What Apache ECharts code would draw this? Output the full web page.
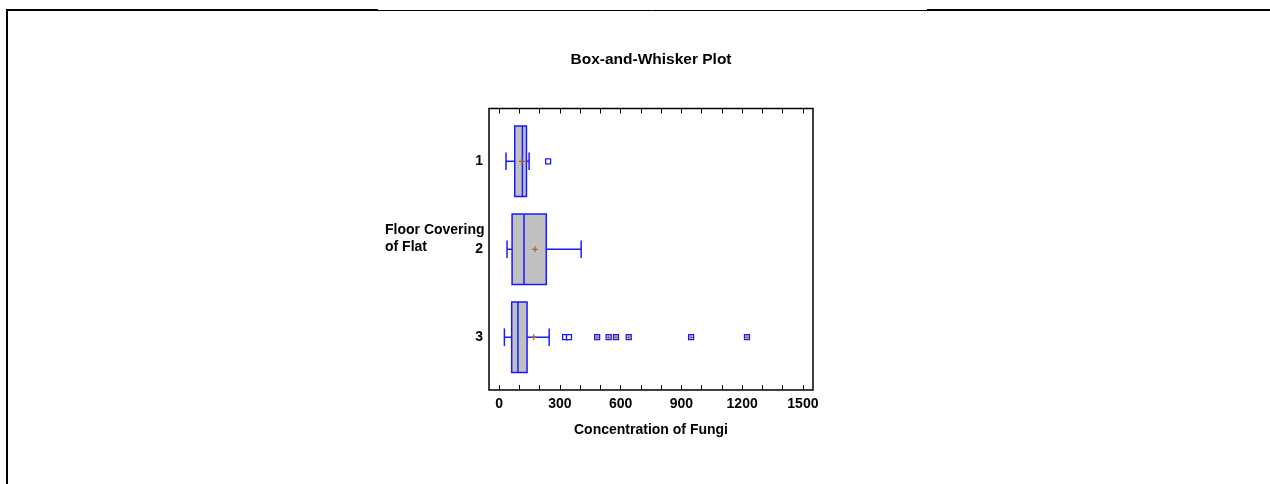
<!DOCTYPE html>
<html>
<head>
<meta charset="utf-8">
<script src="https://cdn.jsdelivr.net/npm/echarts@6/dist/echarts.min.js"></script>
<style>
html,body{margin:0;padding:0;background:#fff;}
#chart{width:1270px;height:484px;}
</style>
</head>
<body>
<div id="chart"></div>
<script>
// ---- data ----
const categories = [1, 2, 3];
const whiskerLow = [34, 39, 26];
const q1 = [77, 64, 62];
const medians = [115, 123, 93];
const q3 = [135, 233, 138];
const whiskerHigh = [148, 405, 247];
const means = [113, 177, 171];
// outliers: [value, group, farOutside(1) or not(0)]
const outliers = [
  [242, 1, 0],
  [326, 3, 0], [345, 3, 0],
  [484, 3, 1], [541, 3, 1], [577, 3, 1], [640, 3, 1], [948, 3, 1], [1224, 3, 1]
];
const xTickLabels = [0, 300, 600, 900, 1200, 1500];
const xTicks = [0,100,200,300,400,500,600,700,800,900,1000,1100,1200,1300,1400,1500];

const boxData = categories.map((c, i) => [c, whiskerLow[i], q1[i], medians[i], q3[i], whiskerHigh[i], means[i]]);

const FONT = 'Liberation Sans, Arial, sans-serif';
const BLUE = '#1a1aff';
const MEAN_COLOR = '#b05a30';

const chart = echarts.init(document.getElementById('chart'));

function renderBox(params, api) {
  const y = api.value(0);
  const lo = api.coord([api.value(1), y]);
  const b1 = api.coord([api.value(2), y]);
  const md = api.coord([api.value(3), y]);
  const b3 = api.coord([api.value(4), y]);
  const hi = api.coord([api.value(5), y]);
  const mn = api.coord([api.value(6), y]);
  const half = api.size([0, 0.4])[1];
  const cap = api.size([0, 0.1])[1];
  const cy = lo[1];
  const ls = {stroke: BLUE, lineWidth: 1.5, fill: null};
  return {
    type: 'group',
    children: [
      {type: 'line', shape: {x1: lo[0], y1: cy, x2: b1[0], y2: cy}, style: ls},
      {type: 'line', shape: {x1: b3[0], y1: cy, x2: hi[0], y2: cy}, style: ls},
      {type: 'line', shape: {x1: lo[0], y1: cy - cap, x2: lo[0], y2: cy + cap}, style: ls},
      {type: 'line', shape: {x1: hi[0], y1: cy - cap, x2: hi[0], y2: cy + cap}, style: ls},
      {type: 'rect', shape: {x: b1[0], y: cy - half, width: b3[0] - b1[0], height: 2 * half},
        style: {fill: '#c0c0c0', stroke: BLUE, lineWidth: 1.5}},
      {type: 'line', shape: {x1: md[0], y1: cy - half, x2: md[0], y2: cy + half}, style: ls},
      {type: 'line', shape: {x1: mn[0] - 3, y1: cy, x2: mn[0] + 3, y2: cy}, style: {stroke: MEAN_COLOR, lineWidth: 1.2}},
      {type: 'line', shape: {x1: mn[0], y1: cy - 3, x2: mn[0], y2: cy + 3}, style: {stroke: MEAN_COLOR, lineWidth: 1.2}}
    ]
  };
}

function renderOutlier(params, api) {
  const p = api.coord([api.value(0), api.value(1)]);
  const far = api.value(2);
  const s = 2.5;
  const children = [
    {type: 'rect', shape: {x: p[0] - s, y: p[1] - s, width: 2 * s, height: 2 * s},
      style: {fill: far ? '#d8c8e8' : '#fff', stroke: BLUE, lineWidth: 1.3}}
  ];
  if (far) {
    children.push({type: 'line', shape: {x1: p[0] - 2, y1: p[1], x2: p[0] + 2, y2: p[1]}, style: {stroke: MEAN_COLOR, lineWidth: 1}});
    children.push({type: 'line', shape: {x1: p[0], y1: p[1] - 2, x2: p[0], y2: p[1] + 2}, style: {stroke: MEAN_COLOR, lineWidth: 1}});
  }
  return {type: 'group', children};
}

const option = {
  animation: false,
  backgroundColor: '#fff',
  grid: {left: 489, top: 108.5, width: 324, height: 281.5, show: true, borderColor: '#000', borderWidth: 1.5, backgroundColor: 'transparent'},
  xAxis: [
    {
      type: 'value', min: -50, max: 1550, position: 'bottom',
      name: 'Concentration of Fungi', nameLocation: 'middle', nameGap: 33,
      nameTextStyle: {fontFamily: FONT, fontWeight: 'bold', fontSize: 14, color: '#000'},
      axisLine: {show: false},
      splitLine: {show: false},
      axisTick: {show: true, inside: true, length: 5, customValues: xTicks, lineStyle: {color: '#000', width: 1}},
      axisLabel: {customValues: xTickLabels, formatter: v => String(v), fontFamily: FONT, fontWeight: 'bold', fontSize: 14, color: '#000', margin: 7}
    },
    {
      type: 'value', min: -50, max: 1550, position: 'top',
      axisLine: {show: false},
      splitLine: {show: false},
      axisTick: {show: true, inside: true, length: 5, customValues: xTicks, lineStyle: {color: '#000', width: 1}},
      axisLabel: {show: false}
    }
  ],
  yAxis: {
    type: 'value', min: 0.4, max: 3.6, inverse: true,
    axisLine: {show: false}, axisTick: {show: false}, splitLine: {show: false},
    axisLabel: {customValues: categories, formatter: v => String(v), fontFamily: FONT, fontWeight: 'bold', fontSize: 14, color: '#000', margin: 6}
  },
  graphic: [
    {type: 'text', x: 651, y: 60, style: {text: 'Box-and-Whisker Plot', fontFamily: FONT, fontWeight: 'bold', fontSize: 15.5, fill: '#000', textAlign: 'center', textVerticalAlign: 'middle'}},
    {type: 'text', x: 385, y: 221.5, style: {text: 'Floor Covering\nof Flat', fontFamily: FONT, fontWeight: 'bold', fontSize: 14, lineHeight: 17, fill: '#000', textAlign: 'left', textVerticalAlign: 'top'}},
    {type: 'line', shape: {x1: 6, y1: 10, x2: 378, y2: 10}, style: {stroke: '#000', lineWidth: 2}},
    {type: 'line', shape: {x1: 378, y1: 10.5, x2: 927, y2: 10.5}, style: {stroke: '#000', lineWidth: 1}},
    {type: 'line', shape: {x1: 927, y1: 10, x2: 1270, y2: 10}, style: {stroke: '#000', lineWidth: 2}},
    {type: 'line', shape: {x1: 7, y1: 9, x2: 7, y2: 484}, style: {stroke: '#000', lineWidth: 2}}
  ],
  series: [
    {type: 'custom', xAxisIndex: 0, renderItem: renderBox, data: boxData, encode: {x: [1, 2, 3, 4, 5, 6], y: 0}},
    {type: 'custom', xAxisIndex: 0, renderItem: renderOutlier, data: outliers, encode: {x: 0, y: 1}}
  ]
};
chart.setOption(option);
</script>
</body>
</html>
